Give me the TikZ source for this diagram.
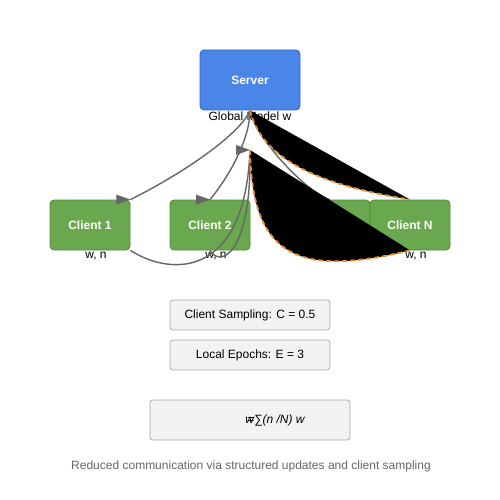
\documentclass[tikz,border=0pt]{standalone}
\usepackage{fontspec}
\setmainfont{Liberation Sans}
\usetikzlibrary{calc}
\definecolor{srvfill}{HTML}{4A86E8}
\definecolor{srvline}{HTML}{3566C0}
\definecolor{clifill}{HTML}{6AA84F}
\definecolor{cliline}{HTML}{4E8A37}
\definecolor{boxfill}{HTML}{F2F2F2}
\definecolor{boxline}{HTML}{AAAAAA}
\definecolor{conn}{HTML}{666666}
\definecolor{dashor}{HTML}{E69138}
\tikzset{
  x=1pt, y=-1pt,
  server/.style={draw=srvline, fill=srvfill, rounded corners=4pt, minimum width=100pt, minimum height=60pt, text=white, font=\fontsize{12}{14}\selectfont\bfseries, inner sep=0pt, line width=0.8pt},
  client/.style={draw=cliline, fill=clifill, rounded corners=4pt, minimum width=80pt, minimum height=50pt, text=white, font=\fontsize{12}{14}\selectfont\bfseries, inner sep=0pt, line width=0.8pt},
  infobox/.style={draw=boxline, fill=boxfill, rounded corners=3pt, inner sep=0pt, line width=0.8pt},
  lbl/.style={font=\fontsize{12}{14}\selectfont, inner sep=0pt, text=black},
  grayconn/.style={draw=conn, line width=1.4pt},
  blackconn/.style={fill=black, draw=dashor, line width=1.8pt, dash pattern=on 5pt off 3pt},
  arrhead/.style={fill=conn, draw=none}
}
\begin{document}
\begin{tikzpicture}
\useasboundingbox (0,0) rectangle (500,500);
\fill[white] (0,0) rectangle (500,500);
% nodes
\node[server] (srv) at (250,80) {Server};
\node[lbl] (gm) at (250,116) {Global Model w};
\node[client] (c1) at (90,225) {Client 1};
\node[client] (c2) at (210,225) {Client 2};
\node[client] (c3) at (330,225) {Client 3};
\node[client] (cN) at (410,225) {Client N};
\node[lbl] (l1) at (96,256) {w, n};
\node[lbl] (l2) at (216,256) {w, n};
\node[lbl] (lN) at (416,256) {w, n};
\coordinate (agg) at (250,150);
% info boxes
\node[infobox, minimum width=160pt, minimum height=30pt] (cs) at (250,315) {};
\node[lbl] (cst) at (250,315) {Client Sampling: C = 0.5};
\node[infobox, minimum width=160pt, minimum height=30pt] (le) at (250,355) {};
\node[lbl] (let) at (250,355) {Local Epochs: E = 3};
\node[infobox, minimum width=200pt, minimum height=40pt] (fm) at (250,420) {};
\node[lbl, font=\fontsize{12}{14}\selectfont\itshape] (fmt) at (275,420) {\makebox[0pt][l]{\upshape\,=}w∑(n /N) w};
\node[lbl, text=conn] (cap) at (251,466) {Reduced communication via structured updates and client sampling};
% gray connectors
\draw[grayconn] (srv.south) .. controls (240,135) and (180,175) .. (c1.north east);
\draw[grayconn] (srv.south) .. controls (250,140) and (228,178) .. (c2.north);
\draw[grayconn] (srv.south) .. controls (256,140) and (310,195) .. (c3.north);
\draw[grayconn] (c1.south east) .. controls (170,276) and (245,280) .. (agg);
\draw[grayconn] (c2.south) .. controls (220,268) and (252,255) .. (agg);
\draw[grayconn] (c3.south) .. controls (280,262) and (253,232) .. (agg);
% arrowheads
\path[arrhead] (c1.north east) -- ++(-14,-5) -- ++(0,10) -- cycle;
\path[arrhead] (c2.north) -- ++(-14,-5) -- ++(0,10) -- cycle;
% black filled connectors
\filldraw[blackconn] (srv.south) .. controls (262,160) and (320,185) .. (cN.north);
\filldraw[blackconn] (agg) .. controls (252,250) and (290,280) .. (cN.south);
\path[arrhead] (agg) -- ++(-14,-5) -- ++(0,10) -- cycle;
\end{tikzpicture}
\end{document}
